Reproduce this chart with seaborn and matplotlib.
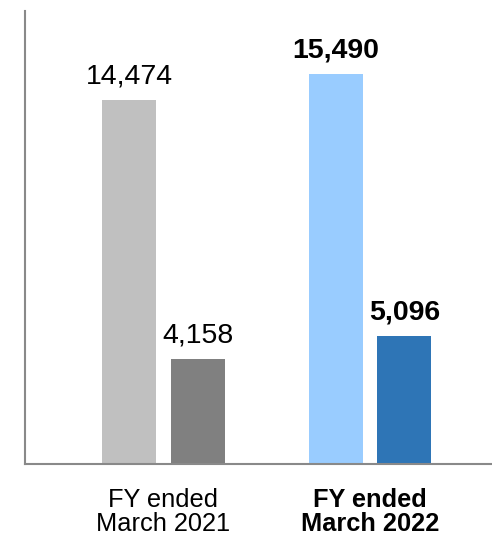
import pandas as pd
import matplotlib
matplotlib.use('Agg')
import matplotlib.pyplot as plt
import seaborn as sns

periods = ['FY ended\nMarch 2021', 'FY ended\nMarch 2022']
series = ['total', 'part']
values_2021 = [14474, 4158]
values_2022 = [15490, 5096]
colors_2021 = ['#C0C0C0', '#808080']
colors_2022 = ['#99CCFF', '#2E75B6']

data = pd.DataFrame({
    'period': [periods[0]] * 2 + [periods[1]] * 2,
    'series': series * 2,
    'value': values_2021 + values_2022,
})

sns.set_style('white')
plt.rcParams['font.family'] = ['Liberation Sans', 'DejaVu Sans']

fig = plt.figure(figsize=(4.92, 5.35), dpi=100)
ax = fig.add_axes([25 / 492, 71 / 535, 467 / 492, 453 / 535])

sns.barplot(data=data, x='period', y='value', hue='series', order=periods,
            hue_order=series, width=0.668, gap=0.217, legend=False, ax=ax)

# recolour bars per period, seaborn groups patches by hue
for i, bars in enumerate(ax.containers):
    for j, bar in enumerate(bars):
        col = (colors_2021 if j == 0 else colors_2022)[i]
        bar.set_facecolor(col)
        bar.set_edgecolor('none')
        bold = j == 1
        ax.annotate(f'{int(bar.get_height()):,}',
                    (bar.get_x() + bar.get_width() / 2, bar.get_height()),
                    xytext=(0, 12), textcoords='offset points',
                    ha='center', va='baseline', fontsize=20.5,
                    fontweight='bold' if bold else 'normal', color='black')

ax.set_xlim(-0.6707, 1.5908)
ax.set_ylim(0, 18000)
ax.set_xlabel('')
ax.set_ylabel('')
ax.set_yticks([])
ax.tick_params(axis='x', length=0, pad=17, labelsize=18.3, labelcolor='black')
for lbl in ax.get_xticklabels():
    lbl.set_linespacing(1.03)
ax.get_xticklabels()[1].set_fontweight('bold')

for s in ['top', 'right']:
    ax.spines[s].set_visible(False)
for s in ['left', 'bottom']:
    ax.spines[s].set_color('#898989')
    ax.spines[s].set_linewidth(1.5)

fig.savefig('out.png', dpi=100)
